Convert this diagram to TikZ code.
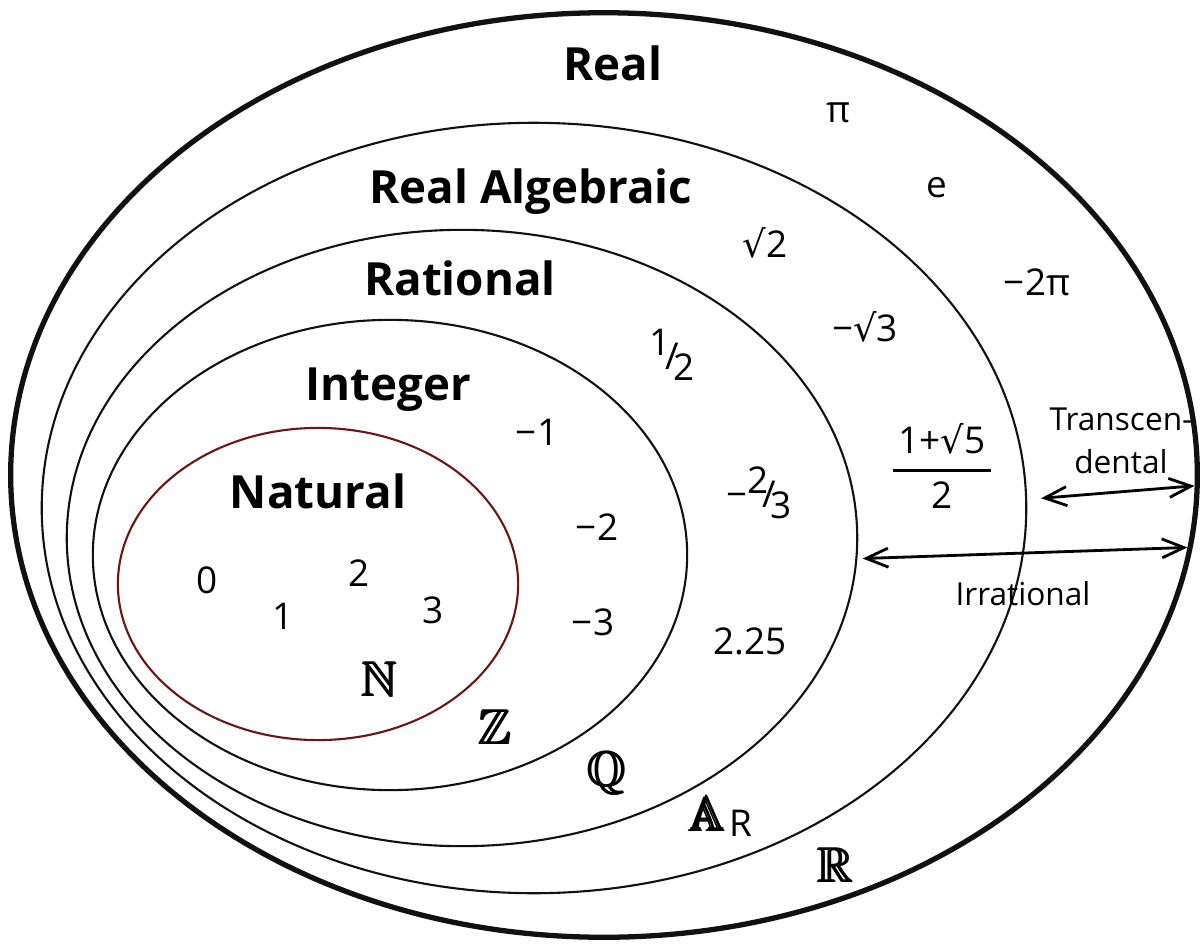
\documentclass[tikz,border=0pt]{standalone}
\usepackage{amsmath,amssymb}
\usepackage{fontspec}
\setmainfont{Open Sans}
\newfontfamily\rootfont{DejaVu Sans}
\usetikzlibrary{shapes.geometric,arrows.meta}
\definecolor{SetLine}{HTML}{111111}
\definecolor{NaturalLine}{HTML}{6B1515}
\newcommand{\rt}{{\rootfont √}}
\newcommand{\slashfrac}[2]{{\fontsize{10.5}{11}\selectfont\raisebox{0.7ex}{#1}\kern-0.15em/\kern-0.15em\raisebox{-0.55ex}{#2}}}
\newcommand{\heavybb}[1]{\ooalign{$\mathbb{#1}$\cr\kern0.3pt$\mathbb{#1}$\cr\kern0.6pt$\mathbb{#1}$\cr\kern0.3pt\raisebox{0.3pt}{$\mathbb{#1}$}\cr}}

\begin{document}
\begin{tikzpicture}[x=0.01cm, y=-0.01cm,
        setring/.style={draw=SetLine, ellipse, inner sep=0pt, line width=0.6pt},
        setname/.style={font=\fontsize{13}{15}\selectfont\bfseries, anchor=base, inner sep=0pt},
        elem/.style={font=\fontsize{10.5}{12}\selectfont, inner sep=1pt},
        bbname/.style={font=\fontsize{14}{16}\selectfont, inner sep=1pt},
        remark/.style={font=\fontsize{9}{12.2}\selectfont, align=center, inner sep=1pt},
        rangearrow/.style={{Straight Barb[length=2.2mm,width=1.9mm]}-{Straight Barb[length=2.2mm,width=1.9mm]}, line width=0.8pt}
    ]
        \useasboundingbox (0,0) rectangle (1202,945);

        % Nested sets
        \node[setring, line width=1.5pt, minimum width=11.86cm, minimum height=9.24cm] (real) at (604,475) {};
        \node[setring, minimum width=9.84cm, minimum height=7.70cm] (realalg) at (534,508) {};
        \node[setring, minimum width=7.90cm, minimum height=6.16cm] (rational) at (462,538) {};
        \node[setring, minimum width=5.94cm, minimum height=4.70cm] (integer) at (390,555) {};
        \node[setring, draw=NaturalLine, minimum width=4.00cm, minimum height=3.12cm] (natural) at (318,584) {};

        % Set names
        \node[setname] (realtxt) at (613,80) {Real};
        \node[setname] (realalgtxt) at (531,203) {Real Algebraic};
        \node[setname] (rationaltxt) at (460,295) {Rational};
        \node[setname] (integertxt) at (388,400) {Integer};
        \node[setname] (naturaltxt) at (318,508) {Natural};

        % Transcendental numbers
        \node[elem] (pi) at (838,113) {π};
        \node[elem] (euler) at (937,188) {e};
        \node[elem] (twopi) at (1037,282) {−2π};

        % Irrational algebraic numbers
        \node[elem] (sqrttwo) at (765,243) {\rt2};
        \node[elem] (sqrtthree) at (865,327) {−\rt3};
        \node[elem] (golden) at (942,466) {$\genfrac{}{}{0.9pt}{0}{\text{\kern1.5pt 1+\rt5\kern1.5pt}}{\text{2}}$};

        % Rational numbers
        \node[elem] (half) at (672,355) {\slashfrac{1}{2}};
        \node[elem] (twothirds) at (759,493) {−\slashfrac{2}{3}};
        \node[elem] (decimal) at (750,641) {2.25};

        % Integers
        \node[elem] (minusone) at (537,432) {−1};
        \node[elem] (minustwo) at (597,527) {−2};
        \node[elem] (minusthree) at (593,622) {−3};

        % Naturals
        \node[elem] (zero) at (207,580) {0};
        \node[elem] (one) at (283,616) {1};
        \node[elem] (two) at (359,573) {2};
        \node[elem] (three) at (433,610) {3};

        % Set symbols
        \node[bbname] (setN) at (379,680) {\heavybb{N}};
        \node[bbname] (setZ) at (495,728) {\heavybb{Z}};
        \node[bbname] (setQ) at (607,773) {\heavybb{Q}};
        \node[bbname] (setA) at (720,817) {\heavybb{A}\kern1pt{\fontsize{10.5}{12}\selectfont\raisebox{-0.3ex}{R}}};
        \node[bbname] (setR) at (835,866) {\heavybb{R}};

        % Ranges
        \node[remark] (transtxt) at (1121,441) {Transcen-\\dental};
        \node[remark] (irrtxt) at (1023,594) {Irrational};
        \draw[rangearrow, shorten <=4pt, shorten >=1.5pt] (realalg.1.3) -- (real.-1.5);
        \draw[rangearrow, shorten <=1.5pt, shorten >=1.5pt] (rational.-3.6) -- (real.-7.5);
    \end{tikzpicture}
\end{document}
